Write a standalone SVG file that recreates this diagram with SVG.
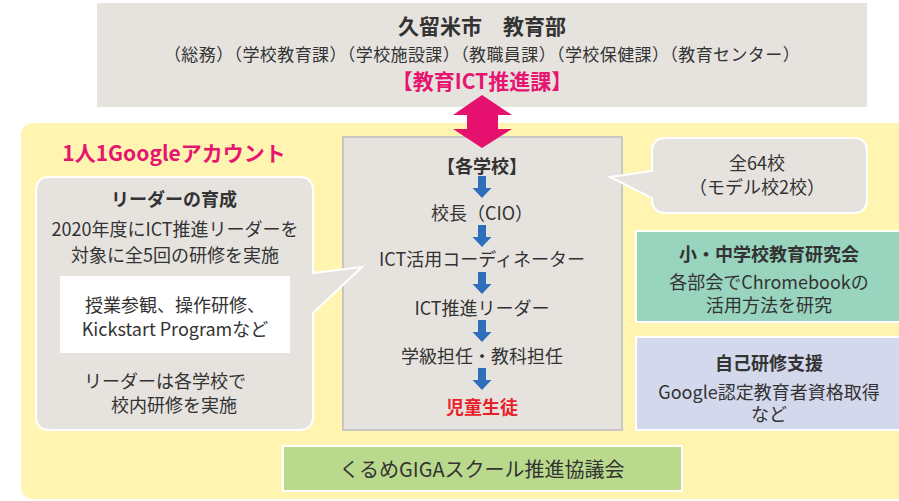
<svg xmlns="http://www.w3.org/2000/svg" width="899" height="501" viewBox="0 0 899 501">
<style>
text{font-family:"Noto Sans CJK JP","Noto Sans",sans-serif;fill:#333;text-anchor:middle;dominant-baseline:central}
.b{font-weight:bold}
.pk{fill:#e6156f}
.s16{font-size:16px}
.s18{font-size:18px}
.gray{fill:#e6e3df}
.wb{stroke:#ffffff;stroke-width:2}
</style>
<defs>
<path id="ba" d="M-4,0 H4 V12 H9.5 L0,22 L-9.5,12 H-4 Z" fill="#2e6fbd"/>
</defs>
<rect x="0" y="0" width="899" height="501" fill="#ffffff"/>
<rect x="21" y="123" width="900" height="376" rx="12" fill="#fff5b1"/>

<g id="top">
<rect x="97" y="3" width="770" height="104" class="gray"/>
<text x="482" y="25" class="b" style="font-size:21px">久留米市　教育部</text>
<text x="482" y="53" style="font-size:17px;letter-spacing:0.4px">（総務）（学校教育課）（学校施設課）（教職員課）（学校保健課）（教育センター）</text>
<text x="482" y="80" class="b pk" style="font-size:21px">【教育ICT推進課】</text>
</g>

<g id="title">
<text x="174" y="152" class="b pk" style="font-size:21px">1人1Googleアカウント</text>
</g>

<g id="school">
<rect x="343" y="137" width="279" height="293" class="gray" stroke="#c9c7c3" stroke-width="2"/>
<text x="482" y="165" class="b s18">【各学校】</text>
<text x="482" y="212" class="s18">校長（CIO）</text>
<text x="482" y="258" class="s18">ICT活用コーディネーター</text>
<text x="482" y="307" class="s18">ICT推進リーダー</text>
<text x="482" y="355" class="s18">学級担任・教科担任</text>
<text x="482" y="406" class="b s18" style="fill:#e8202a">児童生徒</text>
</g>

<g id="leader">
<path d="M50,177 H299 Q313,177 313,191 V273 L362,267 L313,313 V416 Q313,430 299,430 H50 Q36,430 36,416 V191 Q36,177 50,177 Z" class="gray wb"/>
<text x="174" y="198" class="b s18">リーダーの育成</text>
<text x="175" y="228" class="s18">2020年度にICT推進リーダーを</text>
<text x="175" y="254" class="s18">対象に全5回の研修を実施</text>
<rect x="60" y="276" width="230" height="77" fill="#ffffff"/>
<text x="175" y="304" class="s18">授業参観、操作研修、</text>
<text x="175" y="328" class="s18">Kickstart Programなど</text>
<text x="165" y="380" class="s18">リーダーは各学校で</text>
<text x="174" y="404" class="s18">校内研修を実施</text>
</g>

<g id="count">
<path d="M666,138 H853 Q867,138 867,152 V199 Q867,213 853,213 H666 Q652,213 652,199 V198 L610,177 L652,171 V152 Q652,138 666,138 Z" class="gray wb"/>
<text x="757" y="162" class="s18">全64校</text>
<text x="757" y="186" class="s18">（モデル校2校）</text>
</g>

<g id="kenkyu">
<rect x="636" y="231" width="270" height="91" fill="#99d4be" class="wb"/>
<text x="769" y="253" class="b s18">小・中学校教育研究会</text>
<text x="769" y="281" class="s18">各部会でChromebookの</text>
<text x="769" y="304" class="s18">活用方法を研究</text>
</g>

<g id="jiko">
<rect x="636" y="337" width="270" height="93" fill="#d3d8ec" class="wb"/>
<text x="769" y="362" class="b s18">自己研修支援</text>
<text x="769" y="391" class="s18">Google認定教育者資格取得</text>
<text x="769" y="413" class="s18">など</text>
</g>

<g id="giga">
<rect x="283" y="446" width="399" height="45" fill="#b9da8c" class="wb"/>
<text x="482" y="468" style="font-size:20px">くるめGIGAスクール推進協議会</text>
</g>

<g id="connectors">
<polygon points="482,95 512,115 498,115 498,129 512,129 482,148 453,129 467,129 467,115 453,115" fill="#e6106e"/>
<use href="#ba" x="482" y="176"/>
<use href="#ba" x="482" y="225"/>
<use href="#ba" x="482" y="272"/>
<use href="#ba" x="482" y="320"/>
<use href="#ba" x="482" y="368"/>
</g>
</svg>
